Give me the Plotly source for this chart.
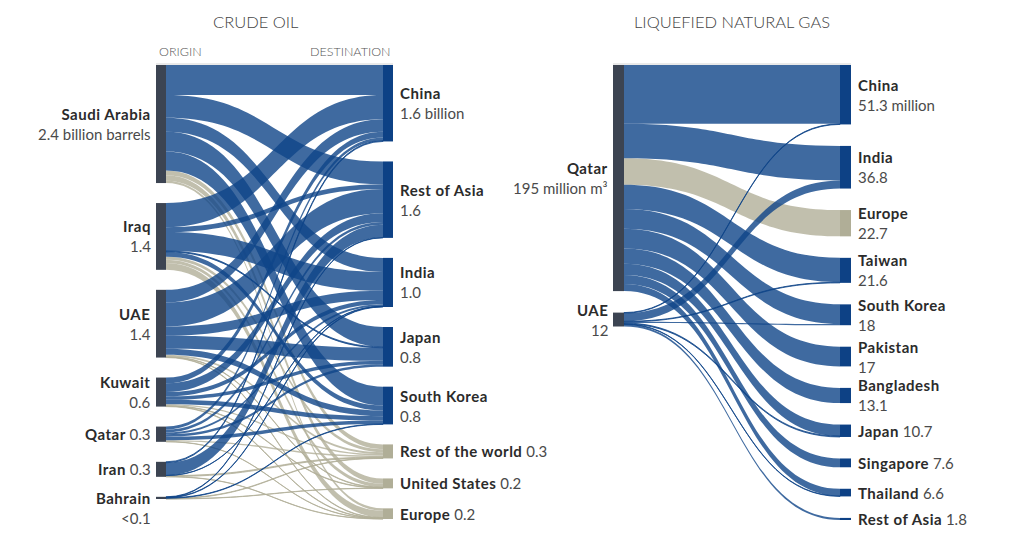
import plotly.graph_objects as go

# ---- crude oil, billion barrels ----
crude_origins = ["Saudi Arabia", "Iraq", "UAE", "Kuwait", "Qatar", "Iran", "Bahrain"]
crude_origin_text = ["2.4 billion barrels", "1.4", "1.4", "0.6", "0.3", "0.3", "&lt;0.1"]
crude_dests = ["China", "Rest of Asia", "India", "Japan", "South Korea",
               "Rest of the world", "United States", "Europe"]
crude_dest_text = ["1.6 billion", "1.6", "1.0", "0.8", "0.8", "0.3", "0.2", "0.2"]
# rows = origins, columns = destinations
crude_flows = [
    [0.62, 0.47, 0.29, 0.41, 0.39, 0.10, 0.11, 0.05],   # Saudi Arabia
    [0.50, 0.10, 0.39, 0.02, 0.10, 0.06, 0.07, 0.14],   # Iraq
    [0.26, 0.50, 0.19, 0.27, 0.12, 0.04, 0.01, 0.01],   # UAE
    [0.12, 0.18, 0.09, 0.07, 0.09, 0.03, 0.01, 0.01],   # Kuwait
    [0.06, 0.06, 0.04, 0.05, 0.07, 0.03, 0.0, 0.005],   # Qatar
    [0.02, 0.26, 0.005, 0.0, 0.0, 0.02, 0.0, 0.005],    # Iran
    [0.0, 0.01, 0.01, 0.0, 0.01, 0.01, 0.005, 0.0],     # Bahrain
]
crude_grey = ["Rest of the world", "United States", "Europe"]
crude_inline = ["Qatar", "Iran", "Rest of the world", "United States", "Europe"]

# ---- LNG, million cubic metres ----
lng_origins = ["Qatar", "UAE"]
lng_origin_text = ["195 million m³", "12"]
lng_dests = ["China", "India", "Europe", "Taiwan", "South Korea", "Pakistan",
             "Bangladesh", "Japan", "Singapore", "Thailand", "Rest of Asia"]
lng_dest_text = ["51.3 million", "36.8", "22.7", "21.6", "18", "17", "13.1",
                 "10.7", "7.6", "6.6", "1.8"]
lng_flows = [
    [50.8, 29.8, 22.7, 21.1, 17.0, 17.0, 13.1, 9.9, 7.6, 6.2, 0.0],  # Qatar
    [0.5, 7.0, 0.0, 0.5, 1.0, 0.0, 0.0, 0.8, 0.0, 0.4, 1.8],        # UAE
]
lng_grey = ["Europe"]
lng_inline = ["Japan", "Singapore", "Thailand", "Rest of Asia"]

# the page body has an 8px margin, so the figure is 16px smaller than the window
OFF = 8
W, H = 1016 - 2 * OFF, 547 - 2 * OFF
FONT = "Lato"
BLUE_LINK = "rgba(15, 69, 136, 0.8)"
GREY_LINK = "rgba(177, 175, 152, 0.8)"
ORIGIN_NODE = "#3c4452"
DEST_NODE = "#0d4185"
GREY_NODE = "#b0ae97"


def px(x):
    return (x - OFF) / W


def py(y):
    return 1 - (y - OFF) / H


fig = go.Figure()
annotations = []
shapes = []


def stack_centers(values, pad, ky, height):
    # node centres (0 = top) when nodes are stacked from the top
    out, top = [], 0.0
    for v in values:
        h = v * ky
        out.append((top + h / 2) / height)
        top += h + pad
    return out


def add_sankey(origins, origin_text, dests, dest_text, flows, grey, inline,
               x0, x1, y0, y1, thick, pad):
    n_o = len(origins)
    o_tot = [sum(r) for r in flows]
    d_tot = [sum(r[j] for r in flows) for j in range(len(dests))]
    hh = y1 - y0
    ww = x1 - x0
    ky = min((hh - (len(origins) - 1) * pad) / sum(o_tot),
             (hh - (len(dests) - 1) * pad) / sum(d_tot))

    src, tgt, val, col = [], [], [], []
    # grey links first so the blue ones are drawn over them
    for want_grey in (True, False):
        for i, row in enumerate(flows):
            for j, v in enumerate(row):
                if v > 0 and (dests[j] in grey) == want_grey:
                    src.append(i)
                    tgt.append(n_o + j)
                    val.append(v)
                    col.append(GREY_LINK if want_grey else BLUE_LINK)

    oy = stack_centers(o_tot, pad, ky, hh)
    dy = stack_centers(d_tot, pad, ky, hh)
    xo = thick / 2 / ww
    node_x = [xo] * n_o + [1 - xo] * len(dests)
    node_col = [ORIGIN_NODE] * n_o + [GREY_NODE if d in grey else DEST_NODE for d in dests]

    fig.add_trace(go.Sankey(
        domain=dict(x=[px(x0), px(x1)], y=[py(y1), py(y0)]),
        arrangement="fixed",
        node=dict(label=origins + dests, x=node_x, y=oy + dy,
                  pad=pad, thickness=thick, color=node_col,
                  line=dict(width=0)),
        link=dict(source=src, target=tgt, value=val, color=col,
                  line=dict(width=0)),
        textfont=dict(color="rgba(0,0,0,0)", size=1),
    ))

    def label(name, txt, one_line):
        sep = " " if one_line else "<br>"
        return (f"<span style='letter-spacing:0.5px'><b>{name}</b></span>{sep}"
                f"<span style='color:#4a4a4a'>{txt}</span>")

    for name, txt, c in zip(origins, origin_text, oy):
        annotations.append(dict(
            x=px(x0 - 3), y=py(y0 + c * hh), xref="paper", yref="paper",
            text=label(name, txt, name in inline), showarrow=False,
            xanchor="right", yanchor="middle", align="right",
            yshift=-10 if name == "Bahrain" else 0,
            font=dict(family=FONT, size=15, color="#2b2b2b")))
    for name, txt, c in zip(dests, dest_text, dy):
        annotations.append(dict(
            x=px(x1 + 5), y=py(y0 + c * hh), xref="paper", yref="paper",
            text=label(name, txt, name in inline), showarrow=False,
            xanchor="left", yanchor="middle", align="left",
            font=dict(family=FONT, size=15, color="#2b2b2b")))
    shapes.append(dict(type="line", xref="paper", yref="paper",
                       x0=px(x0), x1=px(x1), y0=py(64), y1=py(64),
                       line=dict(color="#d4d4d4", width=1)))


add_sankey(crude_origins, crude_origin_text, crude_dests, crude_dest_text,
           crude_flows, crude_grey, crude_inline, 156, 393, 65, 519, 10, 20)
add_sankey(lng_origins, lng_origin_text, lng_dests, lng_dest_text,
           lng_flows, lng_grey, lng_inline, 613, 851, 65, 520, 11, 21.5)

titles = [("CRUDE OIL", 256), ("LIQUEFIED NATURAL GAS", 732)]
for t, xc in titles:
    annotations.append(dict(x=px(xc), y=py(22), xref="paper", yref="paper",
                            text=t, showarrow=False, xanchor="center", yanchor="middle",
                            font=dict(family=FONT, size=16.5, color="#444", weight=300)))
annotations.append(dict(x=px(157), y=py(52), xref="paper", yref="paper", text="ORIGIN",
                        showarrow=False, xanchor="left", yanchor="middle",
                        font=dict(family=FONT, size=12.5, color="#555", weight=300)))
annotations.append(dict(x=px(393), y=py(52), xref="paper", yref="paper", text="DESTINATION",
                        showarrow=False, xanchor="right", yanchor="middle",
                        font=dict(family=FONT, size=12.5, color="#555", weight=300)))

fig.update_layout(width=W, height=H, margin=dict(l=0, r=0, t=0, b=0),
                  paper_bgcolor="white", plot_bgcolor="white",
                  annotations=annotations, shapes=shapes,
                  font=dict(family=FONT))

fig.write_html("out.html")
